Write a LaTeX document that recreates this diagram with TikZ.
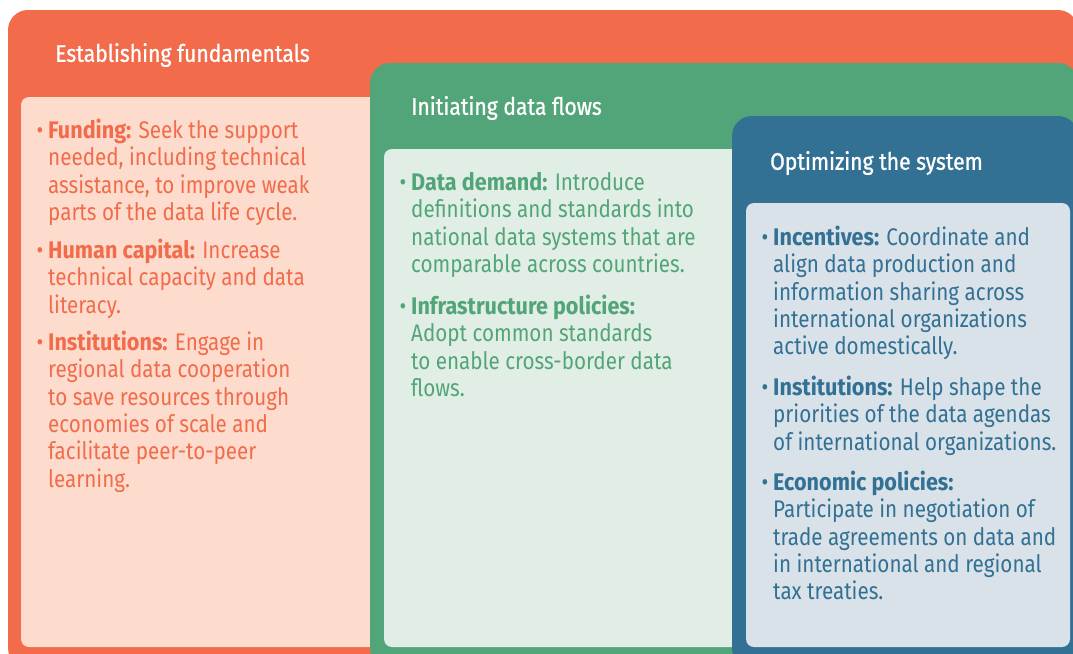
\documentclass[tikz,border=0pt]{standalone}
\usepackage{fontspec}
\setmainfont{Fira Sans}[FakeStretch=0.86,BoldFeatures={FakeStretch=0.9}]
\newfontfamily\headfont{Fira Sans}[FakeStretch=0.88,FakeBold=1]

\definecolor{orng}{HTML}{F26B4A}
\definecolor{orngpale}{HTML}{FDDCCD}
\definecolor{grn}{HTML}{52A578}
\definecolor{grnpale}{HTML}{E1EEE5}
\definecolor{blu}{HTML}{327193}
\definecolor{blupale}{HTML}{D9E1E9}

\newcommand{\itm}[1]{\llap{\textbullet\hspace{5pt}}\textbf{#1}}

\begin{document}
\begin{tikzpicture}[x=1pt,y=-1pt,
  panel/.style={rounded corners=20pt},
  sheet/.style={rounded corners=8pt},
  title/.style={anchor=west,inner sep=0pt,text=white,font=\headfont\fontsize{24}{27}\selectfont},
  entry/.style={anchor=north west,align=left,inner sep=0pt,font=\fontsize{24}{27.3}\selectfont}]
\useasboundingbox (0,0) rectangle (1073,653);
\clip (0,0) rectangle (1073,653);

% boxes
\fill[orng,panel] (8,10) rectangle (1078,668);
\fill[orngpale,sheet] (21,97) rectangle (420,647);
\fill[grn,panel] (370,63) rectangle (1078,668);
\fill[grnpale,sheet] (384,149) rectangle (780,647);
\fill[blu,panel] (732,116) rectangle (1078,668);
\fill[blupale,sheet] (746,203) rectangle (1070,647);

% titles
\node[title] (tfund) at (55,55) {Establishing fundamentals};
\node[title] (tflow) at (411,108) {Initiating data flows};
\node[title] (tsys) at (770,163) {Optimizing the system};

% establishing fundamentals
\node[entry,text=orng] (fund) at (48,119) {\itm{Funding:} Seek the support\\
needed, including technical\\assistance, to improve weak\\parts of the data life cycle.};
\node[entry,text=orng] (hcap) at (48,239) {\itm{Human capital:} Increase\\
technical capacity and data\\literacy.};
\node[entry,text=orng] (inst1) at (48,331) {\itm{Institutions:} Engage in\\
regional data cooperation\\to save resources through\\economies of scale and\\
facilitate peer-to-peer\\learning.};

% initiating data flows
\node[entry,text=grn] (ddem) at (411,172) {\itm{Data demand:} Introduce\\
definitions and standards into\\national data systems that are\\comparable across countries.};
\node[entry,text=grn] (infra) at (411,295) {\itm{Infrastructure policies:}\\
Adopt common standards\\to enable cross-border data\\flows.};

% optimizing the system
\node[entry,text=blu] (incent) at (773,226) {\itm{Incentives:} Coordinate and\\
align data production and\\information sharing across\\international organizations\\active domestically.};
\node[entry,text=blu] (inst2) at (773,376) {\itm{Institutions:} Help shape the\\
priorities of the data agendas\\of international organizations.};
\node[entry,text=blu] (econ) at (773,471) {\itm{Economic policies:}\\
Participate in negotiation of\\trade agreements on data and\\in international and regional\\tax treaties.};
\end{tikzpicture}
\end{document}
